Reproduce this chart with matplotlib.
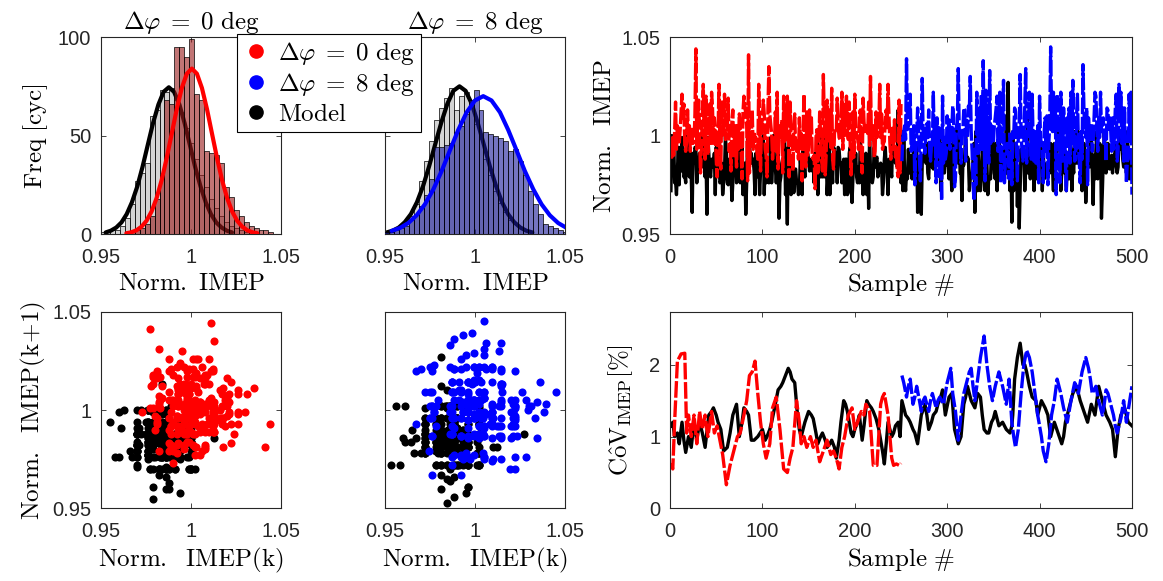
import matplotlib

matplotlib.use("Agg")
import matplotlib.pyplot as plt
from matplotlib.lines import Line2D
import numpy as np

# ---------------------------------------------------------------- data
# histogram bins (shared by all four histograms)
bin_first_center = 0.9509
bin_width = 0.00275

hist_model_0 = [1, 1, 2, 2, 4, 8, 15, 27, 31, 36, 60, 63, 73, 72, 74, 68, 62, 54, 46,
                38, 30, 24, 18, 13, 9, 6, 4, 3, 2, 1, 1, 0, 0, 0, 0, 0, 0]
hist_meas_0 = [0, 0, 0, 0, 0, 1, 1, 2, 3, 5, 9, 18, 30, 68, 66, 95, 95, 90, 99,
               71, 68, 42, 41, 40, 36, 24, 19, 12, 9, 6, 4, 3, 2, 2, 1, 0, 0]
hist_model_8 = [1, 2, 3, 4, 7, 9, 15, 27, 37, 47, 58, 64, 69, 74, 63, 70, 72, 66, 56,
                48, 38, 30, 22, 16, 11, 7, 5, 3, 2, 1, 0, 0, 0, 0, 0, 0, 0]
hist_meas_8 = [1, 1, 2, 3, 4, 7, 10, 14, 20, 28, 44, 44, 45, 46, 52, 55, 61, 68, 73,
               63, 52, 51, 50, 49, 47, 42, 43, 37, 30, 22, 15, 10, 5, 4, 3, 2, 1]

# normal-fit curves (x, count)
fit_meas_0_x = [0.9641, 0.9669, 0.9697, 0.9725, 0.9753, 0.9781, 0.9809, 0.9837, 0.9865,
                0.9893, 0.9921, 0.9949, 0.9977, 1.0005, 1.0033, 1.0061, 1.0089, 1.0117,
                1.0145, 1.0173, 1.0201, 1.0229, 1.0257, 1.0285, 1.0313, 1.0341, 1.0369]
fit_meas_0_y = [0.4, 0.9, 1.9, 3.7, 6.7, 11.4, 18.2, 27.3, 38.5, 50.9, 63.4, 74.1, 81.4,
                84.0, 81.4, 74.1, 63.4, 50.9, 38.5, 27.3, 18.2, 11.4, 6.7, 3.7, 1.9, 0.9, 0.4]
fit_model_0_x = [0.9526, 0.9555, 0.9585, 0.9614, 0.9643, 0.9672, 0.9702, 0.9731, 0.9760,
                 0.9789, 0.9819, 0.9848, 0.9877, 0.9906, 0.9936, 0.9965, 0.9994, 1.0023,
                 1.0053, 1.0082, 1.0111, 1.0140, 1.0170, 1.0199, 1.0228]
fit_model_0_y = [0.8, 1.7, 3.3, 5.9, 10.1, 16.1, 24.2, 34.1, 45.2, 56.2, 65.7, 72.2, 74.5,
                 72.2, 65.7, 56.2, 45.2, 34.1, 24.2, 16.1, 10.1, 5.9, 3.3, 1.7, 0.8]
fit_meas_8_x = [0.9535, 0.9582, 0.9628, 0.9674, 0.9720, 0.9767, 0.9813, 0.9859, 0.9905,
                0.9952, 0.9998, 1.0044, 1.0090, 1.0137, 1.0183, 1.0229, 1.0275, 1.0322,
                1.0368, 1.0414, 1.0460, 1.0507, 1.0553]
fit_meas_8_y = [1.6, 3.1, 5.6, 9.5, 15.1, 22.7, 32.0, 42.5, 52.8, 61.8, 67.8, 70.0, 67.8,
                61.8, 52.8, 42.5, 32.0, 22.7, 15.1, 9.5, 5.6, 3.1, 1.6]
fit_model_8_x = [0.9507, 0.9541, 0.9575, 0.9608, 0.9642, 0.9676, 0.9710, 0.9743, 0.9777,
                 0.9811, 0.9845, 0.9878, 0.9912, 0.9946, 0.9980, 1.0013, 1.0047, 1.0081,
                 1.0115, 1.0148, 1.0182, 1.0216, 1.0250, 1.0283, 1.0317]
fit_model_8_y = [0.8, 1.7, 3.3, 6.0, 10.1, 16.2, 24.4, 34.3, 45.5, 56.6, 66.2, 72.7, 75.0,
                 72.7, 66.2, 56.6, 45.5, 34.3, 24.4, 16.2, 10.1, 6.0, 3.3, 1.7, 0.8]

# normalised IMEP per cycle, in units of 1e-3, dphi = 0 deg (cycles 1-250)
imep_meas_0 = [
    996, 989, 999, 990, 1002, 1017, 993, 1005, 1001, 996,
    1003, 1012, 1021, 1008, 1016, 995, 992, 997, 1013, 999,
    1005, 992, 1004, 999, 996, 997, 1011, 1044, 993, 1008,
    1018, 1002, 981, 994, 1010, 1026, 998, 988, 1020, 1007,
    990, 1005, 1016, 996, 1022, 1014, 995, 1009, 1002, 988,
    979, 1001, 1026, 993, 983, 1017, 1008, 999, 1021, 998,
    1000, 1003, 1019, 992, 996, 982, 1007, 1013, 989, 1005,
    998, 984, 1006, 993, 1011, 1004, 992, 978, 1012, 1020,
    1016, 1010, 1005, 977, 1041, 981, 996, 1000, 1013, 993,
    1002, 997, 999, 992, 988, 1026, 1008, 982, 1004, 1009,
    1018, 1011, 993, 990, 979, 1013, 1035, 1011, 1006, 1001,
    988, 996, 994, 1012, 992, 1022, 983, 1005, 1004, 999,
    1008, 981, 1020, 997, 1012, 998, 1020, 1006, 979, 1017,
    1002, 1001, 982, 1003, 1011, 993, 992, 997, 988, 1009,
    993, 1002, 977, 1001, 1021, 999, 984, 1012, 990, 994,
    1013, 998, 1010, 989, 988, 990, 973, 999, 1003, 981,
    993, 1012, 1000, 989, 982, 1031, 1008, 980, 990, 1018,
    996, 1013, 1002, 994, 1024, 988, 983, 1001, 1003, 1002,
    1019, 1005, 999, 998, 1006, 1022, 993, 1016, 1000, 1011,
    1020, 1002, 998, 1017, 996, 980, 997, 1012, 989, 1021,
    1004, 999, 1000, 993, 1010, 1013, 989, 981, 1019, 1007,
    1002, 1005, 1004, 1001, 1017, 995, 1030, 999, 998, 1005,
    989, 992, 1012, 999, 1008, 1003, 1026, 999, 1011, 993,
    996, 997, 1008, 1013, 1004, 1026, 1010, 996, 988, 1005,
    1002, 993, 1008, 989, 992, 982, 979, 1018, 981, 1016,
]

# normalised IMEP per cycle, in units of 1e-3, dphi = 8 deg (cycles 251-500)
imep_meas_8 = [
    987, 999, 1002, 1005, 998, 1039, 1003, 1005, 1006, 1021,
    992, 996, 999, 1005, 975, 996, 1000, 1014, 1004, 988,
    977, 999, 1029, 1000, 996, 991, 1005, 1006, 998, 1013,
    992, 987, 996, 995, 1022, 997, 1005, 976, 1009, 993,
    1004, 978, 992, 967, 1020, 986, 999, 988, 991, 1010,
    996, 1008, 993, 999, 1002, 1015, 1009, 974, 979, 1005,
    1006, 1034, 1004, 996, 986, 1002, 1003, 1014, 1013, 987,
    1009, 999, 1015, 1013, 1030, 1002, 992, 976, 967, 993,
    975, 1022, 1005, 991, 1014, 992, 1021, 993, 1038, 999,
    977, 1023, 987, 1009, 986, 1033, 996, 1005, 999, 996,
    1005, 1009, 1014, 1020, 992, 1002, 1022, 976, 996, 1005,
    1028, 976, 987, 988, 996, 995, 978, 1002, 997, 975,
    1002, 999, 1014, 1012, 992, 977, 999, 1005, 1031, 1002,
    992, 987, 996, 1014, 1034, 986, 999, 1005, 1022, 1002,
    988, 1021, 999, 987, 1002, 986, 988, 1005, 976, 1020,
    999, 996, 995, 976, 1002, 1009, 992, 1010, 975, 996,
    1005, 1045, 1009, 1002, 1022, 1001, 1019, 970, 1021, 1003,
    996, 976, 1022, 992, 987, 1014, 1005, 987, 972, 1009,
    996, 1014, 986, 1022, 995, 1028, 1005, 987, 988, 1009,
    1021, 996, 987, 976, 1002, 988, 1036, 1014, 1002, 999,
    1014, 975, 1009, 999, 998, 1005, 992, 996, 1009, 1022,
    1020, 1005, 992, 1009, 999, 1022, 1002, 1005, 1009, 996,
    1002, 987, 1014, 1013, 1002, 1009, 1003, 992, 1009, 993,
    999, 1014, 1021, 987, 992, 1026, 1009, 1022, 996, 1014,
    987, 1014, 996, 976, 987, 988, 1021, 999, 1022, 970,
]

# model prediction, in units of 1e-3, cycles 1-500
imep_model = [
    972, 1000, 984, 998, 976, 977, 970, 982, 994, 975,
    994, 982, 999, 991, 979, 980, 976, 1000, 993, 984,
    979, 991, 979, 961, 991, 986, 994, 993, 976, 986,
    982, 991, 988, 986, 1000, 984, 991, 979, 988, 960,
    999, 991, 982, 979, 988, 984, 985, 991, 970, 994,
    984, 986, 994, 976, 977, 986, 970, 976, 982, 1000,
    991, 976, 975, 988, 979, 982, 967, 976, 994, 982,
    991, 976, 977, 988, 994, 976, 979, 999, 970, 982,
    986, 960, 976, 1000, 986, 998, 986, 991, 986, 988,
    982, 970, 991, 979, 991, 986, 970, 982, 983, 984,
    1000, 970, 988, 976, 977, 986, 976, 984, 999, 976,
    986, 1000, 988, 984, 976, 984, 994, 958, 976, 979,
    986, 988, 989, 1002, 970, 979, 955, 994, 984, 986,
    970, 982, 986, 971, 982, 983, 976, 977, 970, 972,
    988, 982, 970, 1000, 986, 979, 999, 994, 991, 988,
    982, 984, 988, 982, 986, 976, 991, 976, 1000, 970,
    984, 986, 979, 1000, 979, 994, 979, 988, 999, 970,
    979, 1000, 970, 979, 986, 976, 994, 993, 984, 991,
    976, 994, 993, 986, 986, 976, 982, 988, 970, 988,
    988, 970, 971, 991, 994, 986, 966, 979, 991, 982,
    991, 979, 976, 984, 976, 1000, 984, 979, 970, 988,
    979, 991, 970, 988, 963, 1000, 982, 983, 976, 979,
    994, 984, 988, 989, 979, 982, 984, 986, 984, 970,
    976, 988, 994, 984, 982, 970, 988, 984, 982, 979,
    1000, 988, 989, 986, 994, 984, 1013, 986, 984, 976,
    1002, 972, 1001, 978, 972, 981, 978, 993, 981, 988,
    990, 978, 984, 996, 993, 990, 996, 961, 984, 984,
    981, 960, 986, 990, 988, 993, 986, 996, 981, 978,
    990, 986, 985, 984, 983, 1002, 988, 990, 991, 988,
    993, 1002, 972, 978, 996, 995, 981, 986, 985, 990,
    1002, 978, 996, 984, 972, 984, 1001, 986, 988, 1003,
    996, 986, 1002, 981, 981, 967, 986, 985, 990, 1002,
    988, 989, 988, 972, 978, 979, 981, 988, 996, 961,
    1002, 978, 972, 993, 981, 972, 978, 986, 996, 981,
    972, 988, 986, 970, 978, 979, 978, 996, 986, 996,
    981, 978, 996, 972, 986, 1002, 988, 984, 988, 981,
    993, 978, 984, 1010, 981, 1027, 988, 972, 988, 956,
    1002, 972, 990, 986, 986, 964, 984, 953, 972, 993,
    986, 990, 991, 972, 984, 981, 1012, 981, 984, 978,
    988, 990, 996, 972, 996, 986, 978, 981, 996, 1002,
    993, 990, 972, 993, 978, 979, 981, 986, 984, 988,
    981, 996, 986, 984, 972, 996, 981, 990, 996, 1002,
    1002, 996, 972, 981, 990, 996, 981, 990, 972, 986,
    990, 978, 996, 993, 972, 984, 981, 1002, 988, 986,
    986, 1002, 986, 993, 1001, 972, 981, 996, 988, 966,
    978, 988, 993, 984, 1002, 1001, 984, 965, 990, 978,
    993, 1002, 978, 986, 996, 995, 958, 972, 988, 1002,
    993, 981, 984, 996, 984, 983, 986, 990, 981, 990,
    986, 996, 984, 981, 984, 1002, 993, 1001, 996, 988,
    984, 988, 990, 981, 1002, 988, 978, 986, 978, 984,
]

# moving CoV of IMEP [%], (sample, value)
cov_meas_0 = [
    (1, 0.63), (3, 0.55), (5, 1.2), (8, 2.05), (12, 2.15), (16, 2.16), (18, 1.05),
    (20, 1.3), (23, 1.0), (26, 1.3), (29, 0.9), (32, 1.35), (35, 1.1), (38, 1.3),
    (41, 1.0), (45, 1.35), (48, 1.05), (51, 1.15), (54, 0.95), (57, 0.75), (61, 0.33),
    (65, 0.6), (69, 0.8), (73, 1.0), (76, 1.05), (80, 1.3), (83, 1.5), (86, 1.85),
    (89, 1.9), (92, 2.05), (95, 1.6), (98, 1.2), (101, 0.9), (104, 0.7), (108, 0.9),
    (111, 1.4), (115, 1.55), (119, 1.1), (123, 0.55), (127, 0.5), (130, 0.7),
    (133, 0.85), (137, 1.5), (140, 1.2), (142, 0.9), (145, 1.0), (148, 0.85),
    (152, 1.0), (155, 0.85), (158, 0.95), (162, 0.65), (166, 0.8), (170, 0.95),
    (174, 0.75), (177, 0.8), (180, 0.7), (183, 0.55), (186, 0.85), (189, 1.0),
    (193, 1.3), (197, 1.4), (200, 1.1), (203, 1.2), (207, 1.35), (210, 1.3),
    (212, 1.45), (216, 1.35), (220, 0.6), (224, 0.6), (228, 1.45), (230, 1.55),
    (232, 1.6), (236, 1.3), (240, 0.7), (242, 0.6), (245, 0.62), (248, 0.6), (250, 0.63),
]
cov_meas_8 = [
    (251, 1.85), (253, 1.75), (256, 1.55), (258, 1.7), (260, 1.8), (263, 1.45),
    (265, 1.55), (267, 1.7), (270, 1.5), (272, 1.35), (274, 1.5), (276, 1.55),
    (278, 1.45), (280, 1.35), (282, 1.5), (284, 1.6), (286, 1.5), (288, 1.4),
    (290, 1.5), (292, 1.55), (294, 1.5), (296, 1.45), (298, 1.6), (300, 1.75),
    (302, 1.85), (304, 1.95), (306, 1.6), (309, 1.35), (312, 0.95), (315, 1.3),
    (318, 1.6), (320, 1.7), (322, 1.8), (324, 1.9), (326, 1.95), (328, 1.7),
    (330, 1.5), (333, 1.8), (336, 2.1), (338, 2.25), (340, 2.4), (343, 2.0),
    (346, 1.7), (349, 1.5), (352, 1.7), (354, 1.8), (356, 1.9), (358, 1.8),
    (360, 1.7), (364, 1.45), (367, 1.8), (370, 1.2), (372, 1.0), (374, 0.85),
    (377, 1.1), (380, 1.6), (383, 2.0), (386, 2.2), (389, 2.1), (392, 1.9),
    (395, 1.6), (398, 1.3), (400, 1.15), (402, 1.0), (404, 0.8), (407, 0.65),
    (410, 0.9), (413, 1.3), (416, 1.5), (419, 1.8), (421, 1.7), (423, 1.6),
    (426, 1.4), (430, 1.2), (434, 1.5), (438, 1.75), (440, 1.7), (442, 1.6),
    (446, 1.9), (448, 2.0), (450, 2.1), (453, 1.95), (455, 1.8), (457, 1.6),
    (459, 1.65), (461, 1.7), (464, 1.5), (468, 1.3), (470, 1.45), (472, 1.65),
    (474, 1.6), (476, 1.5), (478, 1.4), (480, 1.3), (482, 1.15), (484, 1.05),
    (486, 1.15), (488, 1.25), (491, 1.5), (494, 1.2), (497, 1.45), (500, 1.7),
]
cov_model = [
    (1, 1.15), (3, 1.2), (5, 1.0), (8, 1.05), (10, 0.9), (13, 1.2), (15, 0.95),
    (17, 0.78), (20, 1.0), (23, 0.85), (26, 1.2), (29, 0.95), (32, 1.2), (35, 1.05),
    (38, 0.85), (42, 1.3), (45, 1.35), (47, 1.4), (50, 1.3), (52, 1.2), (55, 1.1),
    (58, 0.8), (62, 0.85), (65, 1.05), (68, 1.3), (72, 1.45), (75, 1.0), (78, 1.2),
    (80, 1.4), (83, 1.35), (85, 1.3), (88, 0.95), (91, 0.95), (95, 1.0), (100, 1.1),
    (103, 0.95), (105, 1.0), (108, 1.1), (110, 1.2), (114, 1.45), (117, 1.65),
    (120, 1.7), (122, 1.75), (125, 1.85), (128, 1.95), (130, 1.9), (132, 1.8),
    (135, 1.75), (138, 1.3), (140, 1.1), (142, 1.0), (146, 1.2), (150, 1.35),
    (153, 1.3), (155, 1.25), (158, 1.05), (160, 0.9), (163, 1.0), (165, 1.05),
    (168, 0.95), (170, 0.85), (173, 0.9), (175, 0.95), (178, 0.85), (180, 0.7),
    (183, 0.95), (185, 1.2), (188, 1.5), (190, 1.45), (192, 1.35), (194, 1.2),
    (196, 1.05), (198, 1.0), (200, 1.1), (203, 1.2), (205, 1.3), (208, 0.95),
    (210, 1.15), (213, 1.5), (215, 1.45), (218, 1.4), (220, 1.35), (223, 1.25),
    (226, 1.1), (228, 0.95), (230, 0.8), (232, 0.62), (234, 0.9), (236, 1.2),
    (238, 1.1), (240, 1.0), (242, 1.05), (244, 1.15), (247, 1.2), (249, 1.0),
    (251, 1.5), (253, 1.4), (255, 1.3), (258, 1.25), (260, 1.2), (263, 1.1),
    (265, 1.05), (268, 0.9), (270, 1.1), (272, 1.3), (276, 1.45), (278, 1.3),
    (280, 1.1), (283, 1.2), (285, 1.3), (288, 1.35), (290, 1.45), (293, 1.55),
    (295, 1.65), (298, 1.3), (302, 1.55), (305, 1.6), (308, 1.1), (310, 1.0),
    (312, 0.9), (315, 1.0), (318, 1.45), (320, 1.55), (322, 1.7), (324, 1.6),
    (326, 1.5), (330, 1.4), (333, 1.6), (336, 1.55), (338, 1.3), (340, 1.1),
    (343, 1.05), (345, 1.05), (348, 1.2), (350, 1.25), (352, 1.35), (356, 1.15),
    (360, 1.2), (364, 1.1), (368, 1.05), (370, 1.15), (371, 1.3), (373, 1.8),
    (376, 2.1), (379, 2.3), (382, 2.0), (384, 2.0), (386, 1.9), (389, 1.7),
    (392, 1.55), (396, 1.5), (398, 1.3), (402, 1.5), (406, 1.4), (409, 1.3),
    (412, 1.0), (416, 1.2), (420, 1.05), (424, 0.9), (426, 1.0), (428, 1.2),
    (432, 1.4), (436, 1.6), (440, 1.7), (444, 1.5), (448, 1.35), (452, 1.2),
    (456, 1.45), (460, 1.3), (464, 1.7), (468, 1.5), (472, 1.3), (476, 1.2),
    (479, 1.1), (482, 0.72), (485, 1.1), (488, 1.3), (492, 1.4), (496, 1.2), (500, 1.15),
]

# ---------------------------------------------------------------- style
plt.rcParams["font.family"] = ["Liberation Sans", "DejaVu Sans"]
plt.rcParams["mathtext.fontset"] = "cm"
TICK_COLOR = "#262626"
RED = "#ff0000"
BLUE = "#0000ff"
LBL = 18
TCK = 14.5
DASH = (0, (5, 0.8))

FACE_GRAY = (0.72, 0.72, 0.72, 0.6)
FACE_RED = (0.6, 0.1, 0.1, 0.6)
FACE_BLUE = (0.1, 0.1, 0.6, 0.6)

TITLE_0 = r"$\Delta\varphi\;=\;0\ \mathrm{deg}$"
TITLE_8 = r"$\Delta\varphi\;=\;8\ \mathrm{deg}$"


def _style(ax):
    for sp in ax.spines.values():
        sp.set_color(TICK_COLOR)
        sp.set_linewidth(0.8)
    ax.tick_params(direction="in", top=True, right=True, length=3.5, width=0.6,
                   colors=TICK_COLOR, labelsize=TCK)
    ax.tick_params(axis="x", pad=10)
    ax.tick_params(axis="y", pad=7)


def _hist_panel(ax, model_counts, meas_counts, fit_model, fit_meas, face, color, title, ylabel):
    centers = bin_first_center + bin_width * np.arange(len(model_counts))
    ax.bar(centers, model_counts, width=bin_width, color=FACE_GRAY, edgecolor="k",
           linewidth=0.5, zorder=1)
    ax.plot(fit_model[0], fit_model[1], color="k", lw=3, zorder=2, solid_capstyle="round")
    ax.bar(centers, meas_counts, width=bin_width, color=face, edgecolor="k",
           linewidth=0.5, zorder=3)
    ax.plot(fit_meas[0], fit_meas[1], color=color, lw=3, zorder=4, solid_capstyle="round")
    ax.set_xlim(0.95, 1.05)
    ax.set_ylim(0, 100)
    ax.set_xticks([0.95, 1.0, 1.05])
    ax.set_xticklabels(["0.95", "1", "1.05"])
    ax.set_yticks([0, 50, 100])
    if ylabel:
        ax.set_ylabel(r"$\mathrm{Freq\ [cyc]}$", fontsize=LBL, labelpad=6)
    else:
        ax.set_yticklabels([])
    ax.set_xlabel(r"$\mathrm{Norm.\ IMEP}$", fontsize=LBL, labelpad=3)
    ax.set_title(title, fontsize=LBL, pad=6)
    _style(ax)


def _scatter_panel(ax, model, meas, color, ylabel):
    ax.scatter(model[:-1], model[1:], s=34, color="k", linewidths=0, zorder=1)
    ax.scatter(meas[:-1], meas[1:], s=34, color=color, linewidths=0, zorder=2)
    ax.set_xlim(0.95, 1.05)
    ax.set_ylim(0.95, 1.05)
    ax.set_xticks([0.95, 1.0, 1.05])
    ax.set_xticklabels(["0.95", "1", "1.05"])
    ax.set_yticks([0.95, 1.0, 1.05])
    if ylabel:
        ax.set_yticklabels(["0.95", "1", "1.05"])
        ax.set_ylabel(r"$\mathrm{Norm.\ \ IMEP(k\!+\!1)}$", fontsize=LBL, labelpad=3)
    else:
        ax.set_yticklabels([])
    ax.set_xlabel(r"$\mathrm{Norm.\ \ IMEP(k)}$", fontsize=LBL, labelpad=3)
    _style(ax)


def main():
    fig = plt.figure(figsize=(11.63, 5.81), dpi=100)
    top, bot, h = 0.5972, 0.1248, 0.339
    ax_h0 = fig.add_axes([0.0868, top, 0.1548, h])
    ax_h8 = fig.add_axes([0.3313, top, 0.1548, h])
    ax_ts = fig.add_axes([0.5761, top, 0.3972, h])
    ax_s0 = fig.add_axes([0.0868, bot, 0.1548, h])
    ax_s8 = fig.add_axes([0.3313, bot, 0.1548, h])
    ax_cv = fig.add_axes([0.5761, bot, 0.3972, h])

    _hist_panel(ax_h0, hist_model_0, hist_meas_0, (fit_model_0_x, fit_model_0_y),
                (fit_meas_0_x, fit_meas_0_y), FACE_RED, RED, TITLE_0, True)
    _hist_panel(ax_h8, hist_model_8, hist_meas_8, (fit_model_8_x, fit_model_8_y),
                (fit_meas_8_x, fit_meas_8_y), FACE_BLUE, BLUE, TITLE_8, False)

    model = np.array(imep_model) / 1000.0
    meas0 = np.array(imep_meas_0) / 1000.0
    meas8 = np.array(imep_meas_8) / 1000.0
    n0 = len(meas0)

    # time series
    x_model = np.arange(1, len(model) + 1)
    x0 = np.arange(1, n0 + 1)
    x8 = np.arange(n0 + 1, n0 + len(meas8) + 1)
    ax_ts.plot(x_model, model, color="k", lw=2.4, zorder=1)
    ax_ts.plot(x0, meas0, color=RED, lw=2.4, ls=DASH, zorder=2)
    ax_ts.plot(x8, meas8, color=BLUE, lw=2.4, ls=DASH, zorder=2)
    ax_ts.set_xlim(0, 500)
    ax_ts.set_ylim(0.95, 1.05)
    ax_ts.set_yticks([0.95, 1.0, 1.05])
    ax_ts.set_yticklabels(["0.95", "1", "1.05"])
    ax_ts.set_xticks(range(0, 501, 100))
    ax_ts.set_xlabel(r"$\mathrm{Sample\ \#}$", fontsize=LBL, labelpad=3)
    ax_ts.set_ylabel(r"$\mathrm{Norm.\ \ IMEP}$", fontsize=LBL, labelpad=4)
    _style(ax_ts)

    _scatter_panel(ax_s0, model[:n0], meas0, RED, True)
    _scatter_panel(ax_s8, model[n0:], meas8, BLUE, False)

    # CoV
    cm = np.array(cov_model)
    c0 = np.array(cov_meas_0)
    c8 = np.array(cov_meas_8)
    ax_cv.plot(cm[:, 0], cm[:, 1], color="k", lw=2.4, zorder=1)
    ax_cv.plot(c0[:, 0], c0[:, 1], color=RED, lw=2.4, ls=DASH, zorder=2)
    ax_cv.plot(c8[:, 0], c8[:, 1], color=BLUE, lw=2.4, ls=DASH, zorder=2)
    ax_cv.set_xlim(0, 500)
    ax_cv.set_ylim(0, 2.74)
    ax_cv.set_yticks([0, 1, 2])
    ax_cv.set_xticks(range(0, 501, 100))
    ax_cv.set_xlabel(r"$\mathrm{Sample\ \#}$", fontsize=LBL, labelpad=3)
    ax_cv.set_ylabel(r"$\mathrm{C\hat{o}V_{IMEP}[\%]}$", fontsize=LBL, labelpad=10)
    _style(ax_cv)

    handles = [
        Line2D([], [], ls="none", marker="o", ms=9.5, color=RED),
        Line2D([], [], ls="none", marker="o", ms=9.5, color=BLUE),
        Line2D([], [], ls="none", marker="o", ms=9.5, color="k"),
    ]
    labels = [TITLE_0, TITLE_8, r"$\mathrm{Model}$"]
    leg = fig.legend(handles, labels, loc="upper left", bbox_to_anchor=(0.2038, 0.9415),
                     fontsize=LBL, frameon=True, fancybox=False, edgecolor="k",
                     framealpha=1, borderpad=0.25, labelspacing=0.15, handlelength=1.0,
                     handletextpad=0.4, borderaxespad=0)
    leg.get_frame().set_linewidth(0.8)
    leg.set_zorder(10)

    fig.savefig("out.png", dpi=100)
    plt.close(fig)


if __name__ == "__main__":
    main()
